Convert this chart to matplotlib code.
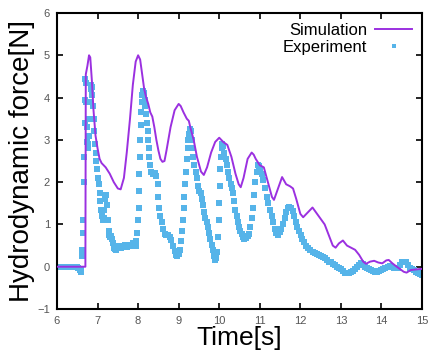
import numpy as np
import matplotlib
matplotlib.use("Agg")
import matplotlib.pyplot as plt

plt.rcParams['font.family'] = ['Liberation Sans', 'DejaVu Sans']

# simulation (purple line)
sim_t = [6.00, 6.70, 6.71, 6.75, 6.79, 6.82, 6.86, 6.90, 6.95, 7.00, 7.05, 7.10,
         7.20, 7.30, 7.40, 7.50, 7.57, 7.65, 7.72, 7.80, 7.87, 7.94, 8.00, 8.05,
         8.10, 8.15, 8.20, 8.25, 8.30, 8.35, 8.40, 8.45, 8.50, 8.55, 8.60, 8.65,
         8.70, 8.80, 8.90, 9.00, 9.05, 9.12, 9.20, 9.25, 9.30, 9.37, 9.45, 9.55,
         9.62, 9.70, 9.80, 9.90, 10.00, 10.05, 10.10, 10.20, 10.30, 10.40, 10.48,
         10.53, 10.60, 10.70, 10.80, 10.85, 10.90, 11.00, 11.10, 11.20, 11.30,
         11.35, 11.45, 11.55, 11.65, 11.75, 11.82, 11.90, 12.00, 12.07, 12.15,
         12.30, 12.45, 12.60, 12.70, 12.80, 12.87, 12.95, 13.05, 13.15, 13.25,
         13.35, 13.45, 13.55, 13.62, 13.72, 13.82, 13.92, 14.02, 14.12, 14.18,
         14.27, 14.35, 14.45, 14.55, 14.62, 14.72, 14.80, 14.90, 15.00]
sim_f = [0.00, 0.00, 4.55, 4.75, 5.00, 4.95, 4.40, 3.70, 3.10, 2.80, 2.55, 2.45,
         2.35, 2.20, 2.00, 1.85, 1.83, 2.10, 2.70, 3.50, 4.30, 4.85, 5.00, 4.90,
         4.55, 4.20, 4.00, 3.85, 3.65, 3.55, 3.30, 3.00, 2.75, 2.55, 2.48, 2.50,
         2.75, 3.30, 3.70, 3.85, 3.80, 3.65, 3.50, 3.45, 3.25, 3.00, 2.60, 2.25,
         2.17, 2.35, 2.70, 2.95, 3.05, 3.00, 2.95, 2.88, 2.60, 2.20, 1.95,
         1.88, 2.10, 2.55, 2.70, 2.65, 2.55, 2.40, 2.35, 2.00, 1.65,
         1.58, 1.85, 2.12, 1.95, 1.90, 1.85, 1.60, 1.25, 1.17, 1.25,
         1.40, 1.20, 1.00, 0.75, 0.50, 0.45, 0.55, 0.62, 0.50, 0.45,
         0.40, 0.28, 0.12, 0.07, 0.12, 0.14, 0.10, 0.08, 0.15, 0.16,
         0.08, 0.02, -0.05, -0.12, -0.14, -0.08, -0.07, -0.06, -0.05]

# experiment (light blue dots)
exp_t = [6.00, 6.05, 6.10, 6.15, 6.20, 6.25, 6.30, 6.35, 6.40, 6.45,
         6.50, 6.53, 6.56, 6.58, 6.60, 6.61, 6.62, 6.635, 6.65, 6.665, 6.675,
         6.685, 6.69, 6.70, 6.71, 6.72, 6.73, 6.745, 6.76, 6.775, 6.79, 6.80,
         6.815, 6.83, 6.845, 6.86, 6.875, 6.89, 6.905, 6.92, 6.935, 6.95, 6.97,
         6.99, 7.01, 7.03, 7.05, 7.07, 7.09, 7.11, 7.13, 7.15, 7.17, 7.19, 7.21,
         7.23, 7.25, 7.27, 7.29, 7.31, 7.33, 7.35, 7.37, 7.40, 7.43, 7.46, 7.49,
         7.52, 7.55, 7.58, 7.61, 7.64, 7.67, 7.70, 7.73, 7.76, 7.79, 7.82, 7.85,
         7.88, 7.91, 7.94, 7.96, 7.98, 7.995, 8.01, 8.02, 8.03, 8.04, 8.05, 8.06,
         8.07, 8.085, 8.10, 8.12, 8.14, 8.16, 8.18, 8.20, 8.22, 8.235, 8.25,
         8.265, 8.28, 8.30, 8.33, 8.37, 8.41, 8.45, 8.48, 8.50, 8.52, 8.55, 8.58,
         8.62, 8.66, 8.70, 8.74, 8.78, 8.82, 8.86, 8.90, 8.94, 8.97, 9.00, 9.03,
         9.06, 9.08, 9.10, 9.12, 9.14, 9.16, 9.18, 9.20, 9.22, 9.24, 9.26, 9.28,
         9.30, 9.32, 9.34, 9.36, 9.39, 9.42, 9.45, 9.48, 9.51, 9.54, 9.57, 9.60,
         9.63, 9.66, 9.69, 9.72, 9.75, 9.78, 9.81, 9.84, 9.87, 9.90, 9.93, 9.95,
         9.97, 9.985, 10.00, 10.015, 10.03, 10.045, 10.06, 10.08, 10.10, 10.13,
         10.16, 10.19, 10.22, 10.25, 10.28, 10.31, 10.34, 10.37, 10.40, 10.43,
         10.46, 10.49, 10.52, 10.55, 10.58, 10.62, 10.66, 10.70, 10.74, 10.77,
         10.80, 10.83, 10.86, 10.89, 10.92, 10.95, 10.98, 11.01, 11.05, 11.09,
         11.13, 11.17, 11.21, 11.25, 11.29, 11.33, 11.37, 11.41, 11.45, 11.49,
         11.53, 11.57, 11.61, 11.65, 11.69, 11.73, 11.77, 11.81, 11.85, 11.89,
         11.93, 11.97, 12.01, 12.05, 12.10, 12.15, 12.20, 12.25, 12.30, 12.35,
         12.40, 12.45, 12.50, 12.55, 12.60, 12.65, 12.70, 12.75, 12.80, 12.85,
         12.90, 12.95, 13.00, 13.05, 13.10, 13.15, 13.20, 13.25, 13.30, 13.35,
         13.40, 13.45, 13.50, 13.55, 13.60, 13.65, 13.70, 13.75, 13.80, 13.85,
         13.90, 13.95, 14.00, 14.05, 14.10, 14.15, 14.20, 14.25, 14.30, 14.35,
         14.40, 14.45, 14.50, 14.55, 14.60, 14.65, 14.70, 14.75, 14.80, 14.85,
         14.90, 14.95, 15.00]
exp_f = [0.00, 0.00, 0.00, 0.00, 0.00, 0.00, 0.00, 0.00, 0.00, 0.00,
         0.00, -0.02, -0.08, -0.12, -0.05, 0.25, 0.40, 0.80, 1.10, 2.00, 2.60,
         3.40, 3.95, 4.45, 4.35, 3.90, 3.30, 2.95, 2.80, 2.90, 3.10, 3.50,
         3.90, 4.20, 4.30, 4.25, 4.05, 3.80, 3.50, 3.20, 2.90, 2.70, 2.50,
         2.30, 2.10, 1.95, 1.75, 1.55, 1.35, 1.20, 1.10, 1.15, 1.35, 1.60, 1.70,
         1.45, 1.10, 0.85, 0.75, 0.70, 0.72, 0.65, 0.55, 0.45, 0.42, 0.40, 0.45,
         0.50, 0.48, 0.45, 0.50, 0.48, 0.52, 0.50, 0.46, 0.50, 0.52, 0.48, 0.50,
         0.55, 0.52, 0.50, 0.60, 0.80, 1.10, 1.40, 1.80, 2.20, 2.60, 3.00, 3.35,
         3.65, 3.90, 4.05, 4.15, 4.10, 3.95, 3.80, 3.60, 3.40, 3.20, 3.00,
         2.80, 2.60, 2.40, 2.25, 2.20, 2.22, 2.15, 1.95, 1.65, 1.40, 1.20, 1.05,
         0.90, 0.78, 0.74, 0.74, 0.70, 0.62, 0.50, 0.38, 0.28, 0.25, 0.30, 0.40,
         0.60, 0.85, 1.10, 1.40, 1.65, 1.95, 2.25, 2.55, 2.80, 3.00, 3.15, 3.25,
         3.20, 3.00, 2.80, 2.60, 2.40, 2.25, 2.10, 1.90, 1.80, 1.75, 1.60, 1.45,
         1.30, 1.15, 1.05, 0.95, 0.80, 0.65, 0.52, 0.40, 0.25, 0.17, 0.20, 0.35,
         0.70, 1.10, 1.50, 1.90, 2.30, 2.60, 2.80, 2.90, 2.85, 2.70,
         2.55, 2.40, 2.25, 2.10, 1.95, 1.85, 1.75, 1.55, 1.35, 1.20,
         1.05, 0.95, 0.85, 0.78, 0.70, 0.65, 0.68, 0.72, 0.78, 0.95,
         1.15, 1.40, 1.70, 2.00, 2.25, 2.40, 2.38, 2.30, 2.20, 2.05,
         1.85, 1.65, 1.50, 1.35, 1.20, 1.05, 0.90, 0.80, 0.76, 0.82,
         0.90, 1.00, 1.15, 1.30, 1.38, 1.42, 1.40, 1.32, 1.20, 1.05,
         0.95, 0.85, 0.75, 0.65, 0.58, 0.50, 0.45, 0.40, 0.35, 0.32,
         0.30, 0.28, 0.25, 0.22, 0.20, 0.15, 0.12, 0.10, 0.06, 0.03,
         0.00, -0.03, -0.06, -0.10, -0.14, -0.16, -0.15, -0.13, -0.10, -0.05,
         0.00, 0.05, 0.08, 0.06, 0.00, -0.04, -0.06, -0.08, -0.10, -0.12,
         -0.12, -0.10, -0.08, -0.06, -0.02, 0.00, 0.02, 0.00, -0.02, -0.04,
         -0.02, 0.04, 0.10, 0.12, 0.10, 0.04, -0.02, -0.05, -0.08, -0.12,
         -0.15, -0.18, -0.20]

purple = '#9b30e0'
blue = '#56b4e9'

fig = plt.figure(figsize=(4.28, 3.52), dpi=100)
ax = fig.add_axes([57/428, 1 - 309/352, 365/428, 296/352])

ax.plot(exp_t, exp_f, 's', color=blue, ms=4.3, mew=0, label='Experiment', zorder=2)
ax.plot(sim_t, sim_f, '-', color=purple, lw=1.4, label='Simulation', zorder=3)

ax.set_xlim(6, 15)
ax.set_ylim(-1, 6)
ax.set_xticks(np.arange(6, 16, 1))
ax.set_yticks(np.arange(-1, 7, 1))
ax.tick_params(direction='in', length=4, width=1.2, top=True, right=True,
               labelsize=8, labelcolor='#555555', pad=5)
for s in ax.spines.values():
    s.set_linewidth(1.5)

ax.set_xlabel('Time[s]', fontsize=19, labelpad=0)
ax.set_ylabel('Hydrodynamic force[N]', fontsize=20, labelpad=2)

h, l = ax.get_legend_handles_labels()
leg = ax.legend(h[::-1], l[::-1], loc='upper right', markerfirst=False,
                frameon=False, fontsize=12, handlelength=2.2, handletextpad=0.5,
                labelspacing=0.1, borderaxespad=0.2, markerscale=0.8)

fig.savefig('out.png', dpi=100)
